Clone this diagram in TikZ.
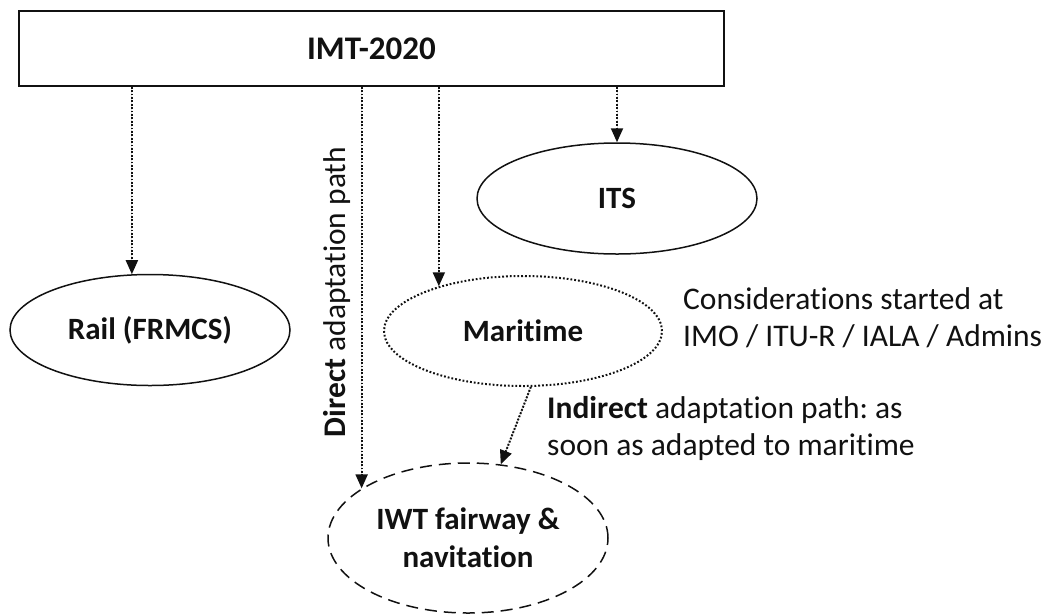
\documentclass[tikz,border=0pt]{standalone}
\usepackage{fontspec}
\setmainfont{Carlito}[Ligatures=NoCommon]
\usepackage{xcolor}
\definecolor{cLine}{HTML}{111111}
\definecolor{cText}{HTML}{111111}
\usepackage{tikz}
\usetikzlibrary{positioning,arrows.meta,shapes.geometric}
\tikzset{
  node-box/.style={draw=cLine,line width=1.5pt,rectangle,minimum width=705pt,
    minimum height=75pt,inner sep=0pt,font=\fontsize{33}{38}\selectfont\bfseries,text=cText},
  node-ell/.style={draw=cLine,line width=1.5pt,ellipse,minimum width=280pt,
    minimum height=111pt,inner sep=0pt,align=center,
    font=\fontsize{31}{38}\selectfont\bfseries,text=cText},
  node-ell-dot/.style={dash pattern=on 1.8pt off 2pt,line width=2pt},
  node-ell-dash/.style={dash pattern=on 12pt off 7pt},
  node-note/.style={align=left,inner sep=0pt,
    font=\fontsize{31.5}{37}\selectfont,text=cText},
  arrow-dot/.style={-{Triangle[length=14pt,width=12pt]},line width=2pt,
    dash pattern=on 1.8pt off 1.6pt,draw=cLine,fill=cLine},
}
\frenchspacing
\begin{document}
\begin{tikzpicture}[x=1pt,y=-1pt]
  \useasboundingbox (0,0) rectangle (1049,614);
  \node[node-box] (imt) at (371.5,48.5) {IMT-2020};
  \node[node-ell] (rail) at (150,330) {Rail (FRMCS)};
  \node[node-ell] (its) at (617,198.5) {ITS};
  \node[node-ell,node-ell-dot,minimum width=278pt,minimum height=110pt]
    (maritime) at (523,331) {Maritime};
  \node[node-ell,node-ell-dash,minimum height=150pt] (iwt) at (468,538)
    {IWT fairway \&\\navitation};
  % notes
  \node[node-note,anchor=west] (note-imo) at (683,318)
    {Considerations started at\\IMO / ITU-R / IALA / Admins};
  \node[node-note,anchor=west] (note-indirect) at (547,428)
    {\textbf{Indirect} adaptation path: as\\soon as adapted to maritime};
  \node[node-note,rotate=90] (note-direct) at (337,292)
    {\textbf{Direct} adaptation path};
  % connectors
  \draw[arrow-dot] (imt.south -| rail.108) -- (rail.108);
  \draw[arrow-dot] (imt.south -| iwt.155) -- (iwt.155);
  \draw[arrow-dot] (imt.south -| maritime.152) -- (maritime.152);
  \draw[arrow-dot] (imt.south -| its.north) -- (its.north);
  \draw[arrow-dot] (maritime.-82) -- (iwt.66);
\end{tikzpicture}
\end{document}
